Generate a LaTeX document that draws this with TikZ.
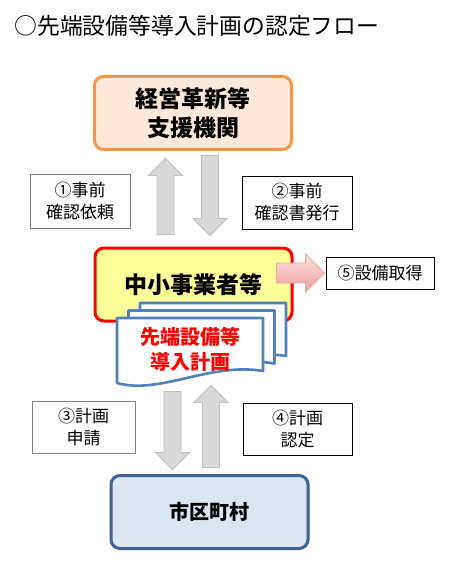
\documentclass[tikz,border=0pt]{standalone}
\usepackage{fontspec}
\setmainfont{Noto Sans CJK JP}
\usetikzlibrary{calc,positioning}

\definecolor{kikanline}{HTML}{F79646}
\definecolor{kikanfill}{HTML}{FDE9D9}
\definecolor{smefill}{HTML}{FFFF99}
\definecolor{cityline}{HTML}{3F6390}
\definecolor{cityfill}{HTML}{DCE6F2}
\definecolor{docblue}{HTML}{4F81BD}
\definecolor{arrfill}{HTML}{D9D9D9}
\definecolor{arrline}{HTML}{BFBFBF}
\definecolor{pinktop}{HTML}{FDE2E2}
\definecolor{pinkbot}{HTML}{F09C9C}
\definecolor{pinkline}{HTML}{E8A8A8}
\definecolor{labgray}{HTML}{808080}

% fat block arrow: style, tail, tip, half shaft, half head
\newcommand{\fatarrow}[5]{%
  \coordinate (fah) at ($(#3)!#5!(#2)$);
  \draw[#1] ($(#2)!#4!90:(#3)$) -- ($(fah)!#4!90:(#3)$) -- ($(fah)!#5!90:(#3)$)
    -- (#3) -- ($(fah)!#5!-90:(#3)$) -- ($(fah)!#4!-90:(#3)$) -- ($(#2)!#4!-90:(#3)$) -- cycle;}
% one sheet of the plan, upper left corner
\newcommand{\plandoc}[2]{%
  \draw[line width=2.6pt, draw=docblue, fill=white, line join=round]
    (#1,#2) -- (#1+146,#2) -- (#1+146,#2+53)
    .. controls (#1+93,#2+44) and (#1+43,#2+77) .. (#1,#2+65) -- cycle;}

\begin{document}
\begin{tikzpicture}[x=1pt,y=-1pt,
  mainbox/.style={rounded corners=9pt, line width=3pt, minimum width=197pt,
    minimum height=73pt, align=center, font=\fontsize{23}{29}\selectfont\bfseries},
  labelbox/.style={draw, line width=0.8pt, fill=white, align=center,
    font=\fontsize{17}{22}\selectfont, inner sep=0pt},
  fatgray/.style={draw=arrline, fill=arrfill, line width=0.8pt},
  fatpink/.style={draw=pinkline, top color=pinktop, bottom color=pinkbot, line width=0.8pt}]
 \useasboundingbox[fill=white] (0,0) rectangle (448,564);
 \node[anchor=west, font=\fontsize{22.8}{27}\selectfont] (title) at (11,26)
   {○先端設備等導入計画の認定フロー};
 % boxes
 \node[mainbox, draw=kikanline, fill=kikanfill] (kikan) at (193,113) {経営革新等\\支援機関};
 \node[mainbox, draw=red, fill=smefill] (sme) at (193.5,284.5) {中小事業者等};
 \node[mainbox, draw=cityline, fill=cityfill, font=\fontsize{20}{24}\selectfont\bfseries]
   (city) at (209.5,512) {市区町村};
 % plan sheets
 \foreach \lx/\ty in {140/303, 128.5/310.5, 117/318} {\plandoc{\lx}{\ty}}
 \node[align=center, text=red, font=\fontsize{20}{25}\selectfont\bfseries] (plan)
   at (190,349.5) {先端設備等\\導入計画};
 % labels
 \node[labelbox, draw=labgray, minimum width=100pt, minimum height=54pt] (q1) at (80,201) {①事前\\確認依頼};
 \node[labelbox, minimum width=110pt, minimum height=53pt] (q2) at (297,202.5) {②事前\\確認書発行};
 \node[labelbox, draw=labgray, minimum width=103pt, minimum height=52pt] (q3) at (83.5,427) {③計画\\申請};
 \node[labelbox, minimum width=109pt, minimum height=52pt] (q4) at (297.5,429) {④計画\\認定};
 \node[labelbox, minimum width=108pt, minimum height=32pt] (q5) at (380,273) {⑤設備取得};
 % arrows
 \coordinate (u1a) at ([xshift=-28pt,yshift=12pt]sme.north);
 \coordinate (u1b) at ([xshift=-27.5pt,yshift=-7.5pt]kikan.south);
 \coordinate (d1a) at ([xshift=17pt,yshift=-4.5pt]kikan.south);
 \coordinate (d1b) at ([xshift=16.5pt,yshift=11pt]sme.north);
 \coordinate (d2a) at ([xshift=-37pt,yshift=82.5pt]city.north);
 \coordinate (d2b) at ([xshift=-37pt,yshift=4.5pt]city.north);
 \coordinate (u2a) at ([xshift=1.5pt,yshift=6.5pt]city.north);
 \coordinate (u2b) at ([xshift=1.5pt,yshift=88.5pt]city.north);
 \coordinate (p1a) at ([xshift=-17pt,yshift=11.5pt]sme.east);
 \coordinate (p1b) at ([xshift=-1pt]q5.west);
 \fatarrow{fatgray}{u1a}{u1b}{8.5pt}{17pt}
 \fatarrow{fatgray}{d1a}{d1b}{8.5pt}{17pt}
 \fatarrow{fatgray}{d2a}{d2b}{8.5pt}{17pt}
 \fatarrow{fatgray}{u2a}{u2b}{8.5pt}{17pt}
 \fatarrow{fatpink}{p1a}{p1b}{10pt}{19pt}
\end{tikzpicture}
\end{document}
